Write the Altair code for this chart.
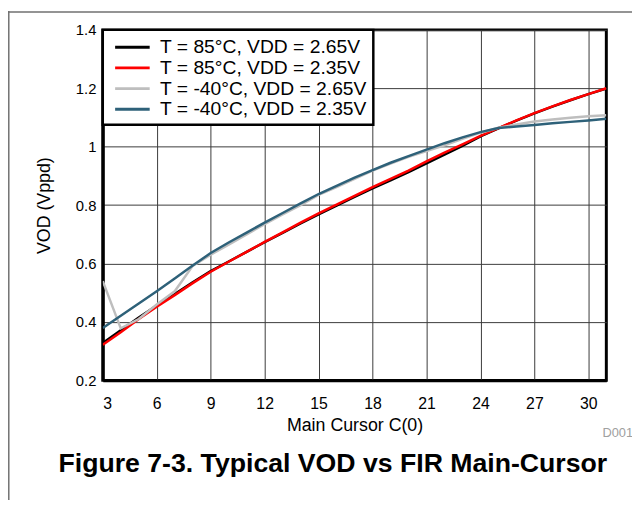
import altair as alt
import pandas as pd

x_vals = list(range(3, 32))
series_names = [
    "T = 85°C, VDD = 2.65V",
    "T = 85°C, VDD = 2.35V",
    "T = -40°C, VDD = 2.65V",
    "T = -40°C, VDD = 2.35V",
]
series_colors = ["#000000", "#ff0000", "#bebebe", "#2e6179"]

vod_85_265 = [0.328, 0.372, 0.415, 0.456, 0.496, 0.536, 0.574, 0.607, 0.640, 0.673,
              0.705, 0.737, 0.768, 0.798, 0.828, 0.857, 0.885, 0.913, 0.943, 0.973,
              1.003, 1.035, 1.063, 1.089, 1.114, 1.137, 1.159, 1.180, 1.199]
vod_85_235 = [0.322, 0.365, 0.410, 0.452, 0.492, 0.533, 0.572, 0.606, 0.640, 0.674,
              0.707, 0.740, 0.772, 0.802, 0.832, 0.862, 0.890, 0.918, 0.950, 0.980,
              1.008, 1.037, 1.064, 1.090, 1.115, 1.138, 1.160, 1.180, 1.200]
vod_m40_265 = [0.540, 0.378, 0.410, 0.460, 0.505, 0.592, 0.630, 0.665, 0.700, 0.735,
               0.768, 0.800, 0.835, 0.862, 0.890, 0.918, 0.942, 0.965, 0.985, 1.005,
               1.027, 1.048, 1.065, 1.076, 1.086, 1.093, 1.099, 1.104, 1.108]
vod_m40_235 = [0.379, 0.421, 0.463, 0.505, 0.549, 0.593, 0.636, 0.672, 0.706, 0.740,
               0.773, 0.806, 0.838, 0.866, 0.894, 0.920, 0.945, 0.968, 0.990, 1.012,
               1.032, 1.050, 1.064, 1.069, 1.074, 1.080, 1.085, 1.090, 1.096]

x_ticks = [3, 6, 9, 12, 15, 18, 21, 24, 27, 30]
y_ticks = [0.2, 0.4, 0.6, 0.8, 1.0, 1.2, 1.4]

rows = []
for name, vals in zip(series_names, [vod_85_265, vod_85_235, vod_m40_265, vod_m40_235]):
    for x, v in zip(x_vals, vals):
        rows.append({"series": name, "x": x, "vod": v, "order": series_names.index(name)})
df = pd.DataFrame(rows)

FONT = "Liberation Sans"
W, H = 510, 355
GRID = "#3a3a3a"

lines = alt.Chart(df).mark_line(strokeWidth=2.5, clip=True).encode(
    x=alt.X("x:Q", scale=alt.Scale(domain=[3, 31], nice=False, zero=False),
            axis=alt.Axis(values=x_ticks, title="Main Cursor C(0)", grid=True,
                          gridColor=GRID, gridWidth=1, gridOpacity=1,
                          ticks=False, labelPadding=15, labelFontSize=16,
                          titleFontSize=18, titlePadding=6, titleFontWeight="normal",
                          domainColor="#000000", domainWidth=3)),
    y=alt.Y("vod:Q", scale=alt.Scale(domain=[0.2, 1.4], nice=False, zero=False),
            axis=alt.Axis(values=y_ticks, format="~g", title="VOD (Vppd)", grid=True,
                          gridColor=GRID, gridWidth=1, gridOpacity=1,
                          ticks=False, labelPadding=7, labelFontSize=15,
                          titleFontSize=18, titlePadding=22, titleFontWeight="normal",
                          domainColor="#000000", domainWidth=3)),
    color=alt.Color("series:N",
                    scale=alt.Scale(domain=series_names, range=series_colors),
                    sort=series_names,
                    legend=alt.Legend(title=None, orient="top-left", offset=0,
                                      symbolType="M-0.5,0H3", symbolSize=400,
                                      symbolStrokeWidth=3, labelFontSize=19.5,
                                      labelFont=FONT, strokeColor="#000000",
                                      fillColor="#ffffff", padding=6,
                                      labelOffset=29, rowPadding=-0.5,
                                      labelExpr="datum.label + '  '",
                                      labelLimit=400)),
    detail="order:O",
)

title_df = pd.DataFrame({"t": ["Figure 7-3. Typical VOD vs FIR Main-Cursor"]})
fig_title = alt.Chart(title_df).mark_text(
    font=FONT, fontSize=27, fontWeight="bold", align="center", baseline="alphabetic",
    color="#000000"
).encode(text="t:N", x=alt.value(233), y=alt.value(448))

code_df = pd.DataFrame({"t": ["D001"]})
code_txt = alt.Chart(code_df).mark_text(
    font=FONT, fontSize=13, align="left", baseline="alphabetic", color="#a0a0a0"
).encode(text="t:N", x=alt.value(506), y=alt.value(412))

frame_top = alt.Chart(title_df).mark_rule(color="#707070", strokeWidth=1.5).encode(
    x=alt.value(-96), x2=alt.value(540), y=alt.value(-18.2))
frame_left = alt.Chart(title_df).mark_rule(color="#707070", strokeWidth=1.5).encode(
    x=alt.value(-95.2), y=alt.value(-19), y2=alt.value(480))

chart = alt.layer(frame_top, frame_left, lines, fig_title, code_txt).properties(
    width=W, height=H,
    background="#ffffff",
    autosize=alt.AutoSizeParams(type="none"),
    padding={"left": 96, "top": 19, "right": 26, "bottom": 118},
).configure_view(stroke="#000000", strokeWidth=3).configure_axis(
    labelFont=FONT, titleFont=FONT, labelColor="#000000", titleColor="#000000",
).configure_legend(strokeWidth=2.5)

chart.save("out.html", embed_options={"renderer": "svg", "actions": False})
